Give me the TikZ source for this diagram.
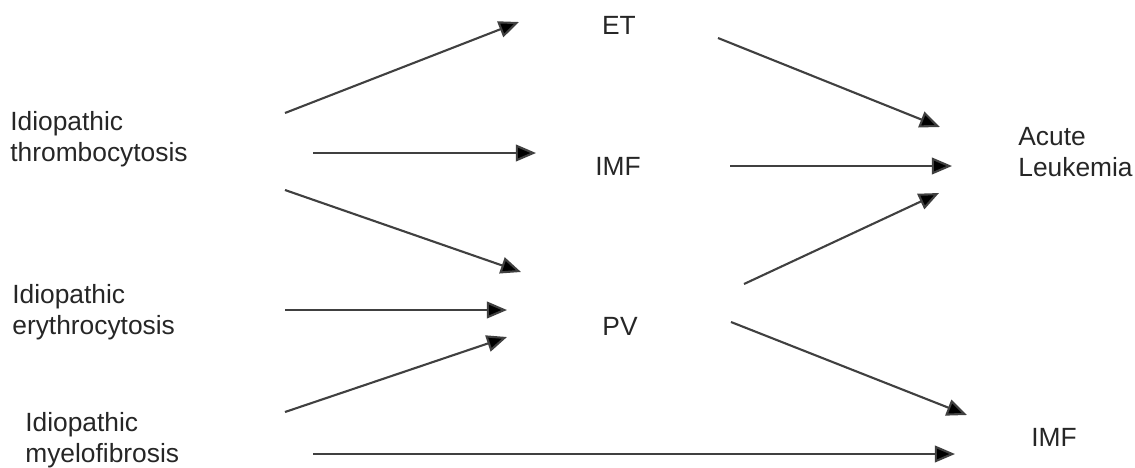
\documentclass[tikz,border=0pt]{standalone}
\usepackage{fontspec}
\setmainfont{Liberation Sans}
\usetikzlibrary{arrows.meta}
\begin{document}
\begin{tikzpicture}[x=0.02cm,y=-0.02cm,
  lbl/.style={inner sep=0pt, align=left, font=\fontsize{15}{17.5}\selectfont, text=black!85},
  arr/.style={draw=black!75, line width=1.2pt, -{Triangle[length=11.5pt,width=9.5pt,fill=black]}}]
\useasboundingbox (0,0) rectangle (1135,467);
% text nodes
\node[lbl, anchor=west] (it) at (10,139) {Idiopathic\\thrombocytosis};
\node[lbl, anchor=west] (ie) at (12,312) {Idiopathic\\erythrocytosis};
\node[lbl, anchor=west] (im) at (25,440) {Idiopathic\\myelofibrosis};
\node[lbl] (et) at (619,25) {ET};
\node[lbl] (imf1) at (618,166) {IMF};
\node[lbl] (pv) at (620,326) {PV};
\node[lbl, anchor=west] (al) at (1018,152) {Acute\\Leukemia};
\node[lbl] (imf2) at (1054,437) {IMF};
% arrow endpoints
\coordinate (a1s) at (285,113); \coordinate (a1e) at (519,22);
\coordinate (a2s) at (313,153); \coordinate (a2e) at (536,153);
\coordinate (a3s) at (285,190); \coordinate (a3e) at (521,272);
\coordinate (a4s) at (285,310); \coordinate (a4e) at (507,310);
\coordinate (a5s) at (285,412); \coordinate (a5e) at (507,337);
\coordinate (a6s) at (718,38);  \coordinate (a6e) at (940,127);
\coordinate (a7s) at (730,166); \coordinate (a7e) at (952,166);
\coordinate (a8s) at (744,284); \coordinate (a8e) at (939,193);
\coordinate (a9s) at (731,322); \coordinate (a9e) at (967,415);
\coordinate (a10s) at (313,454); \coordinate (a10e) at (955,454);
\foreach \i in {1,...,10} {\draw[arr] (a\i s) -- (a\i e);}
\end{tikzpicture}
\end{document}
